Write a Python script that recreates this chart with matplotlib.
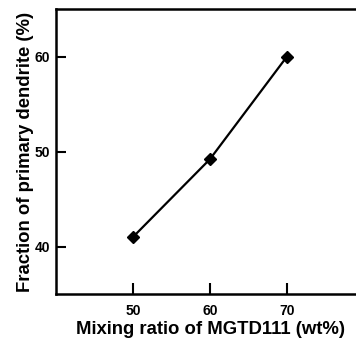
import matplotlib
matplotlib.use("Agg")
import matplotlib.pyplot as plt

## Data
mixing_ratio = [50, 60, 70]
primary_fraction = [41.0, 49.2, 60.0]
x_ticks = [50, 60, 70]
y_ticks = [40, 50, 60]

plt.rcParams['font.family'] = ['Liberation Sans', 'DejaVu Sans']

fig = plt.figure(figsize=(3.56, 3.39), dpi=100)
ax = fig.add_axes([56/356, 45/339, 308/356, 285/339])

ax.plot(mixing_ratio, primary_fraction, color='black', linewidth=1.6,
        marker='D', markersize=6.2, markerfacecolor='black')

ax.set_xlim(40, 80)
ax.set_ylim(35, 65)
ax.set_xticks(x_ticks)
ax.set_yticks(y_ticks)

for side in ['left', 'top', 'bottom']:
    ax.spines[side].set_linewidth(1.8)
ax.spines['right'].set_visible(False)

ax.tick_params(axis='both', direction='in', width=1.5, labelsize=10)
ax.tick_params(axis='x', length=8, pad=7)
ax.tick_params(axis='y', length=7, pad=4)
for lab in ax.get_xticklabels() + ax.get_yticklabels():
    lab.set_fontweight('bold')

ax.set_xlabel('Mixing ratio of MGTD111 (wt%)', fontsize=13.3, fontweight='bold', labelpad=2)
ax.set_ylabel('Fraction of primary dendrite (%)', fontsize=13.3, fontweight='bold', labelpad=1)

fig.savefig('out.png', dpi=100)
